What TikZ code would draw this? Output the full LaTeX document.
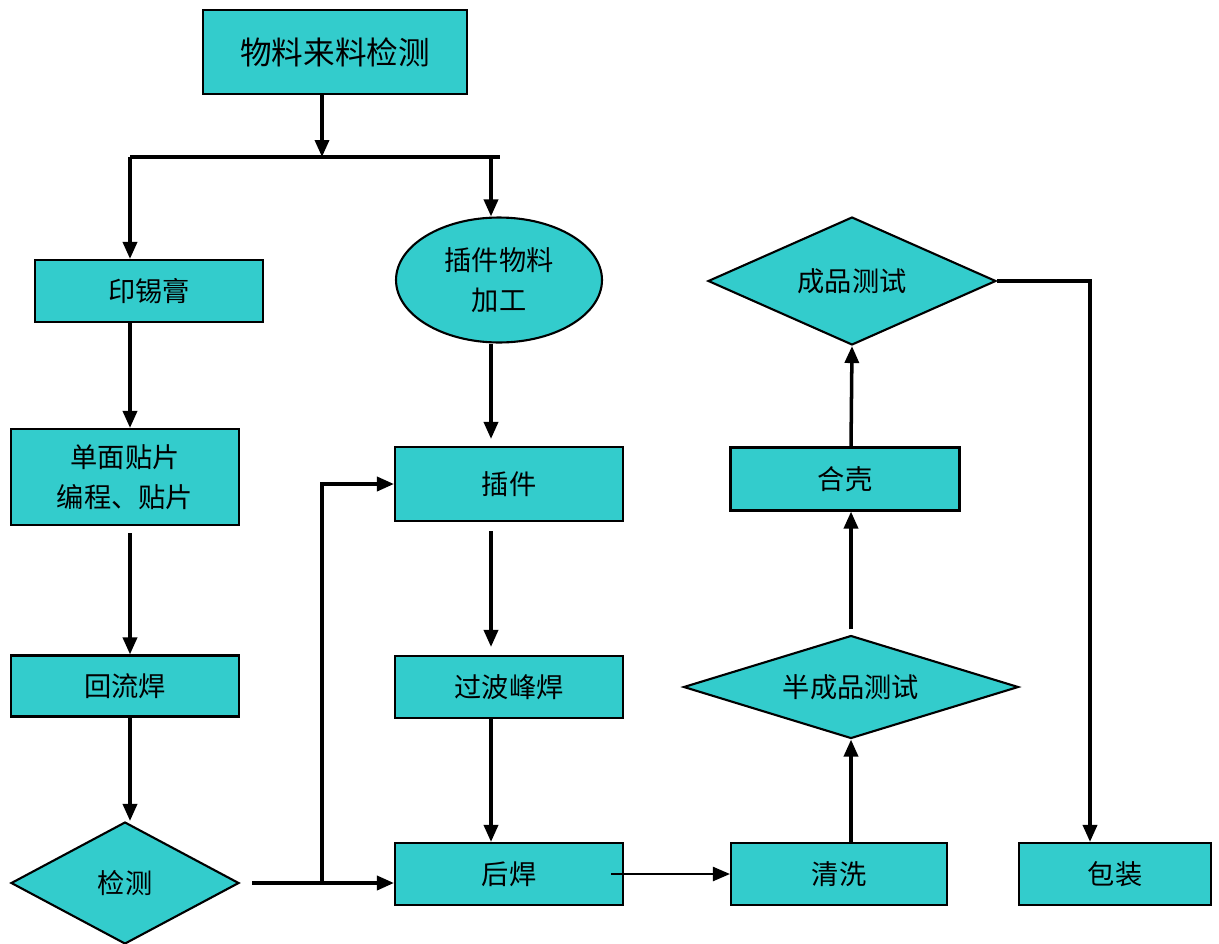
\documentclass[tikz,border=0pt]{standalone}
\usepackage{fontspec}
\newfontfamily\cjk{Noto Sans CJK SC}
\usetikzlibrary{positioning, shapes.geometric, arrows.meta}
\definecolor{boxfill}{HTML}{33CCCC}

\begin{document}
\begin{tikzpicture}[x=0.02cm, y=-0.02cm,
    proc/.style={draw, line width=1.2pt, fill=boxfill, inner sep=0pt, align=center,
      font=\cjk\fontsize{15.5}{22.7}\selectfont},
    decide/.style={proc, diamond},
    arr/.style={line width=2pt, -{Triangle[length=0.34cm, width=0.28cm]}},
    link/.style={line width=2pt}]
    \useasboundingbox (0,0) rectangle (1219,943);
    % left column
    \node[proc, minimum width=5.28cm, minimum height=1.68cm, font=\cjk\fontsize{18}{22}\selectfont] (wl) at (335,52) {物料来料检测};
    \node[proc, minimum width=4.56cm, minimum height=1.24cm] (yin) at (149,291) {印锡膏};
    \node[proc, minimum width=4.56cm, minimum height=1.92cm] (tp) at (125,477) {单面贴片\\编程、贴片};
    \node[proc, minimum width=4.56cm, minimum height=1.22cm] (hl) at (125,686) {回流焊};
    \node[decide, aspect=1.87, minimum width=4.56cm, minimum height=2.44cm] (jc) at (125,883) {检测};
    % middle column
    \node[proc, ellipse, minimum width=4.12cm, minimum height=2.5cm] (el) at (499,280) {插件物料\\加工};
    \node[proc, minimum width=4.56cm, minimum height=1.48cm] (cj) at (509,484) {插件};
    \node[proc, minimum width=4.56cm, minimum height=1.24cm] (gb) at (509,687) {过波峰焊};
    \node[proc, minimum width=4.56cm, minimum height=1.24cm] (hh) at (509,874) {后焊};
    % right columns
    \node[proc, minimum width=4.32cm, minimum height=1.24cm] (qx) at (839,874) {清洗};
    \node[decide, aspect=3.25, minimum width=6.7cm, minimum height=2.06cm] (bc) at (851,687) {半成品测试};
    \node[proc, minimum width=4.58cm, minimum height=1.26cm] (hk) at (845,479) {合壳};
    \node[decide, aspect=2.25, minimum width=5.76cm, minimum height=2.56cm] (cp) at (852,281) {成品测试};
    \node[proc, minimum width=3.84cm, minimum height=1.24cm] (bz) at (1115,874) {包装};
    % guide lines
    \coordinate (lx) at (130,0);
    \coordinate (bx) at (322,0);
    \coordinate (mx) at (491,0);
    \coordinate (rx) at (851,0);
    \coordinate (px) at (1090,0);
    \coordinate (sl) at (130,157);
    \coordinate (sr) at (500,157);
    % connectors
    \draw[arr] (wl.south -| bx) -- (bx |- sl);
    \draw[link] (sl) -- (sr);
    \draw[arr] (sl) -- (yin.north -| lx);
    \draw[arr] (sl -| mx) -- (el.north -| mx);
    \draw[arr] (yin.south -| lx) -- (tp.north -| lx);
    \draw[arr, shorten <=0.14cm] (tp.south -| lx) -- (hl.north -| lx);
    \draw[arr] (hl.south -| lx) -- (jc.north -| lx);
    \draw[arr, shorten <=0.24cm] (jc.east) -- (hh.west |- jc.east);
    \draw[arr] (bx |- jc.east) -- (bx |- cj.west) -- (cj.west);
    \draw[arr, shorten >=0.14cm] (el.south -| mx) -- (cj.north -| mx);
    \draw[arr, shorten <=0.18cm, shorten >=0.16cm] (cj.south -| mx) -- (gb.north -| mx);
    \draw[arr] (gb.south -| mx) -- (hh.north -| mx);
    \draw[arr, line width=1.3pt, shorten <=-0.26cm] (hh.east) -- (qx.west);
    \draw[arr] (qx.north -| rx) -- (bc.south);
    \draw[arr, shorten <=0.1cm] (bc.north) -- (hk.south -| rx);
    \draw[arr] (hk.north -| rx) -- (cp.south);
    \draw[arr] (cp.east) -| (bz.north -| px);
\end{tikzpicture}
\end{document}
